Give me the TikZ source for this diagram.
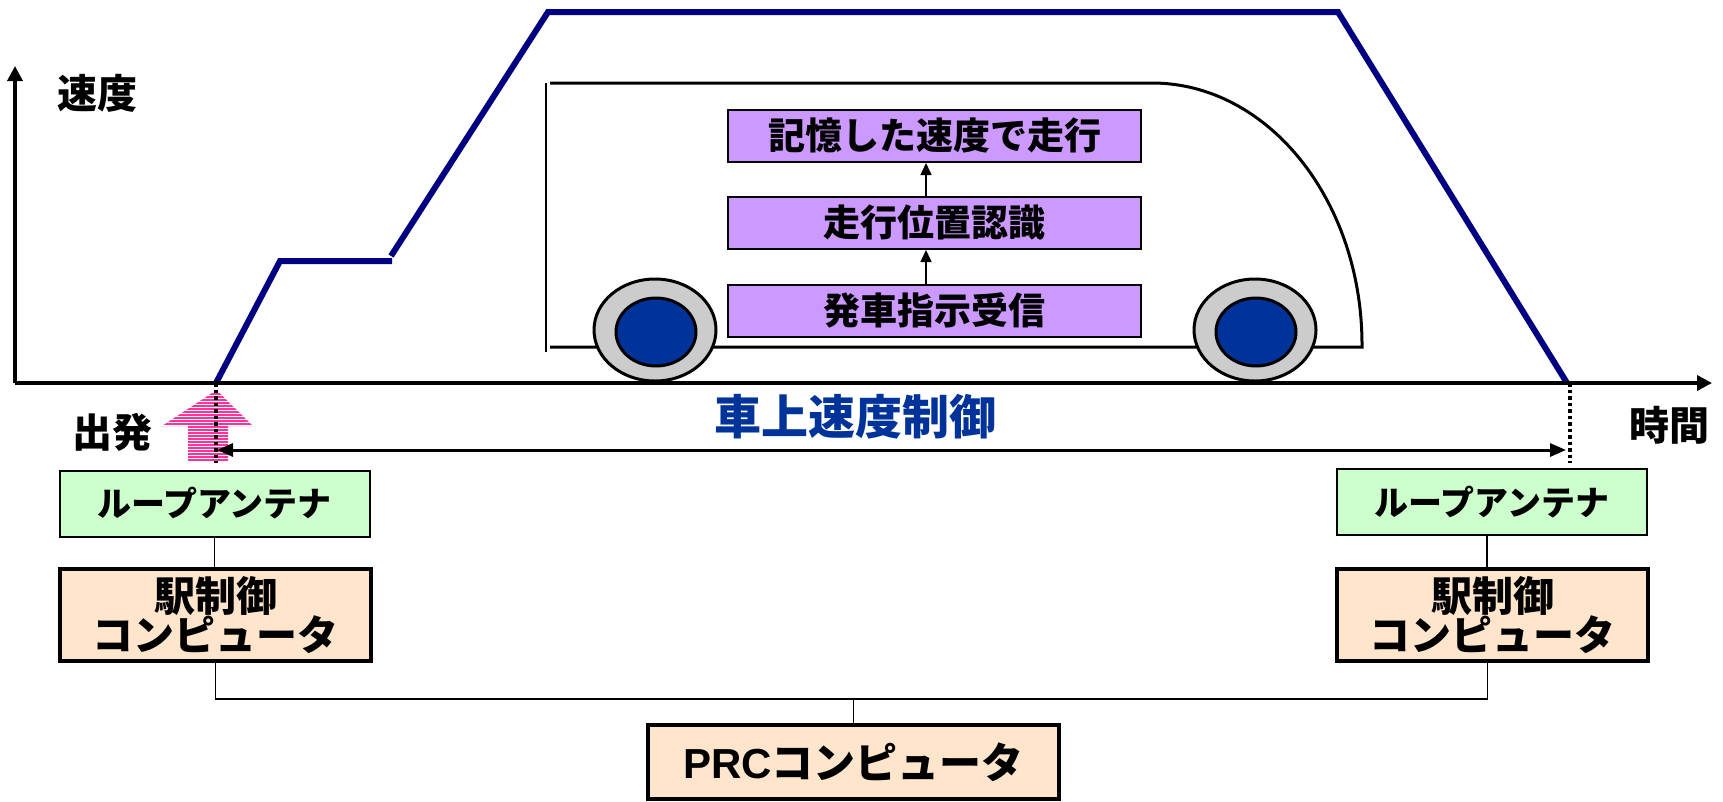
\documentclass[tikz,border=0pt]{standalone}
\usepackage{fontspec}
\setmainfont{Noto Sans CJK JP}
\newfontfamily\latinfont{Liberation Sans}
\usetikzlibrary{arrows.meta}
\definecolor{speedline}{RGB}{0,0,128}
\definecolor{ctrlblue}{RGB}{0,51,153}
\definecolor{stepfill}{RGB}{204,153,255}
\definecolor{antfill}{RGB}{204,255,204}
\definecolor{pcfill}{RGB}{255,229,204}
\definecolor{tyre}{RGB}{204,204,204}
\definecolor{startpink}{RGB}{255,51,153}

\begin{document}
\begin{tikzpicture}[x=1pt,y=-1pt,
  speed/.style={draw=speedline,line width=6pt},
  body/.style={line width=3pt},
  axisline/.style={line width=3.5pt,-{Triangle[length=15pt,width=15pt]}},
  stepbox/.style={draw,line width=2pt,fill=stepfill,minimum width=413pt,minimum height=52pt,inner sep=0pt,font=\bfseries\fontsize{37}{40}\selectfont},
  antbox/.style={draw,line width=2pt,fill=antfill,minimum width=310pt,minimum height=66pt,inner sep=0pt,font=\bfseries\fontsize{34}{38}\selectfont},
  pcbox/.style={draw,line width=3.5pt,fill=pcfill,minimum width=311pt,minimum height=92pt,inner sep=0pt,align=center,font=\bfseries\fontsize{41}{38}\selectfont},
  axislabel/.style={inner sep=0pt,font=\bfseries\fontsize{40}{44}\selectfont},
  wire/.style={line width=1.5pt},
  tickline/.style={line width=3.5pt,dash pattern=on 3.5pt off 3pt},
  tyreouter/.style={draw,line width=3pt,fill=tyre},
  tyreinner/.style={draw,line width=3pt,fill=ctrlblue},
  stripe/.style={draw=startpink,line width=2pt},
]
\useasboundingbox (0,0) rectangle (1723,801);

% time axis marks
\coordinate (orig) at (15,383);
\coordinate (t0) at (216,383);
\coordinate (t1) at (1570,383);

% car body
\draw[line width=2pt] (546,83) -- (546,352);
\draw[body] (550,83) -- (1152,83)
  arc[start angle=-90,end angle=0,x radius=210,y radius=262]
  -- (1362,347) -- (550,347);

% wheels
\draw[tyreouter] (655,330) ellipse [x radius=61,y radius=51];
\draw[tyreinner] (656,332) ellipse [x radius=40,y radius=34];
\draw[tyreouter] (1255,330) ellipse [x radius=61,y radius=51];
\draw[tyreinner] (1256,332) ellipse [x radius=40,y radius=34];

% on-board processing steps
\node[stepbox] (s3) at (934.5,136) {記憶した速度で走行};
\node[stepbox] (s2) at (934.5,223) {走行位置認識};
\node[stepbox] (s1) at (934.5,310.5) {発車指示受信};
\draw[wire,-{Triangle[length=12pt,width=11pt]}] ([xshift=-8.5pt]s1.north) -- ([xshift=-8.5pt]s2.south);
\draw[wire,-{Triangle[length=12pt,width=11pt]}] ([xshift=-8.5pt]s2.north) -- ([xshift=-8.5pt]s3.south);

% speed profile
\draw[speed] (t0) -- (280,261) -- (392,261);
\draw[speed] (391,256) -- (548,12) -- (1338,12) -- (1567,383);

% axes
\draw[axisline] (orig) -- (15,66);
\draw[axisline] (orig) -- (1712,383);
\node[axislabel] (vlab) at (97,93) {速度};
\node[axislabel] (tlab) at (1669,425) {時間};

% departure marker: striped upward arrow
\begin{scope}
  \clip (216.5,390) -- (253,426) -- (228,426) -- (228,461) -- (188,461)
        -- (188,426) -- (162,426) -- cycle;
  \foreach \yy in {391,394,...,462}
    \draw[stripe] (158,\yy) -- (258,\yy);
\end{scope}
\node[axislabel] (dep) at (112,432) {出発};
\draw[tickline] (t0) -- (216,463);
\draw[tickline] (t1) -- (1570,463);

% on-board control span
\coordinate (a0) at (217,450);
\coordinate (a1) at (1566,450);
\draw[line width=3pt,{Triangle[length=16pt,width=13pt]}-{Triangle[length=16pt,width=13pt]}] (a0) -- (a1);
\node[inner sep=0pt,text=ctrlblue,font=\bfseries\fontsize{47}{50}\selectfont] (ctrl) at (855,417) {車上速度制御};

% wayside equipment
\node[antbox] (gL) at (214.5,503.5) {ループアンテナ};
\node[antbox] (gR) at (1492,502) {ループアンテナ};
\node[pcbox] (pL) at (215.5,615) {駅制御\\コンピュータ};
\node[pcbox] (pR) at (1492.5,615) {駅制御\\コンピュータ};
\node[pcbox,minimum width=411pt,minimum height=74pt,font=\bfseries\fontsize{42}{46}\selectfont] (prc) at (853.5,762) {{\latinfont PRC}コンピュータ};

\draw[wire] (gL.south) -- (gL.south |- pL.north);
\draw[wire] ([xshift=-5pt]gR.south) -- ([xshift=-5pt]gR.south |- pR.north);
\coordinate (busL) at (215.5,699);
\coordinate (busR) at (1487.5,699);
\draw[wire] (pL.south) -- (busL) -- (busR) -- (busR |- pR.south);
\draw[wire] (prc.north) -- (prc.north |- busL);
\end{tikzpicture}
\end{document}
